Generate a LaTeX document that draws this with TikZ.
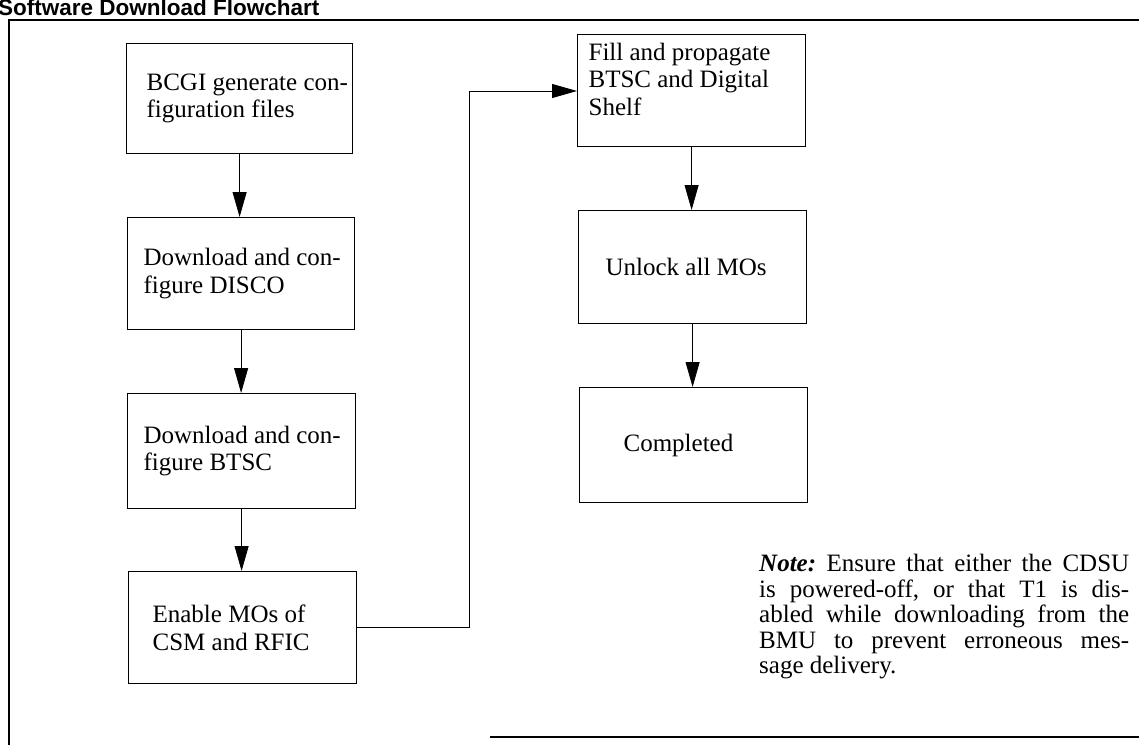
\documentclass[tikz,border=0pt]{standalone}
\usepackage{fontspec}
\setmainfont{Liberation Serif}
\newfontfamily\titlefont{Liberation Sans}
\usetikzlibrary{arrows.meta}
\newcommand{\boxtext}[3]{\parbox[c]{#1}{\raggedright\leftskip=#2\relax #3}}
\begin{document}
\begin{tikzpicture}[x=1pt,y=-1pt,
  box/.style={draw=black, line width=1.2pt, rectangle, anchor=north west,
    inner sep=0pt, font=\fontsize{25}{27.5}\selectfont},
  link/.style={draw=black, line width=0.8pt, -{Triangle[length=25pt,width=14pt]}},
  frame/.style={draw=black, line width=1.6pt},
]
\useasboundingbox (0,0) rectangle (1139,744);

% title and outer frame
\node[anchor=base west, inner sep=0pt, font=\titlefont\bfseries\fontsize{22.5}{27}\selectfont] (title) at (-2,16) {Software Download Flowchart};
\draw[frame] (1145,20) -- (9,20) -- (9,750);
\draw[frame] (490,737) -- (1145,737);

% left column
\node[box, minimum width=226pt, minimum height=110pt] (b1) at (126,43)
  {\boxtext{226pt}{20pt}{\mbox{BCGI generate con-}\\\mbox{figuration files}}};
\node[box, minimum width=227pt, minimum height=112pt] (b2) at (127,217)
  {\boxtext{227pt}{16pt}{\mbox{Download and con-}\\\mbox{figure DISCO}}};
\node[box, minimum width=228pt, minimum height=115pt] (b3) at (127,393)
  {\boxtext{228pt}{16pt}{\mbox{Download and con-}\\\mbox{figure BTSC}}};
\node[box, minimum width=228pt, minimum height=112pt] (b4) at (128,571)
  {\boxtext{228pt}{24pt}{\mbox{Enable MOs of}\\\mbox{CSM and RFIC}}};

% right column
\node[box, minimum width=228pt, minimum height=112pt] (b5) at (577,34)
  {\boxtext{228pt}{11pt}{\mbox{Fill and propagate}\\\mbox{BTSC and Digital}\\\mbox{Shelf}\\[-4pt]\mbox{}}};
\node[box, minimum width=228pt, minimum height=113pt] (b6) at (578,210)
  {\boxtext{228pt}{27pt}{\mbox{Unlock all MOs}}};
\node[box, minimum width=228pt, minimum height=115pt] (b7) at (579,387)
  {\boxtext{228pt}{44pt}{\mbox{Completed}}};

% note
\node[anchor=north west, text width=370pt, align=justify, inner sep=0pt,
  font=\fontsize{25}{25.5}\selectfont\frenchspacing] (note) at (759,554)
  {\textbf{\textit{Note:}} Ensure that either the CDSU\linebreak is powered-off, or that T1 is dis-\linebreak abled while downloading from the\linebreak BMU to prevent erroneous mes-\linebreak sage delivery.};

% connectors
\draw[link] (b1.south) -- (b1.south |- b2.north);
\draw[link] (b2.south) -- (b2.south |- b3.north);
\draw[link] (b3.south) -- (b3.south |- b4.north);
\coordinate (turn) at (469,91);
\draw[link] (b4.east) -- (b4.east -| turn) -- (turn) -- (turn -| b5.west);
\draw[link] (b5.south) -- (b5.south |- b6.north);
\draw[link] (b6.south) -- (b6.south |- b7.north);
\end{tikzpicture}
\end{document}
